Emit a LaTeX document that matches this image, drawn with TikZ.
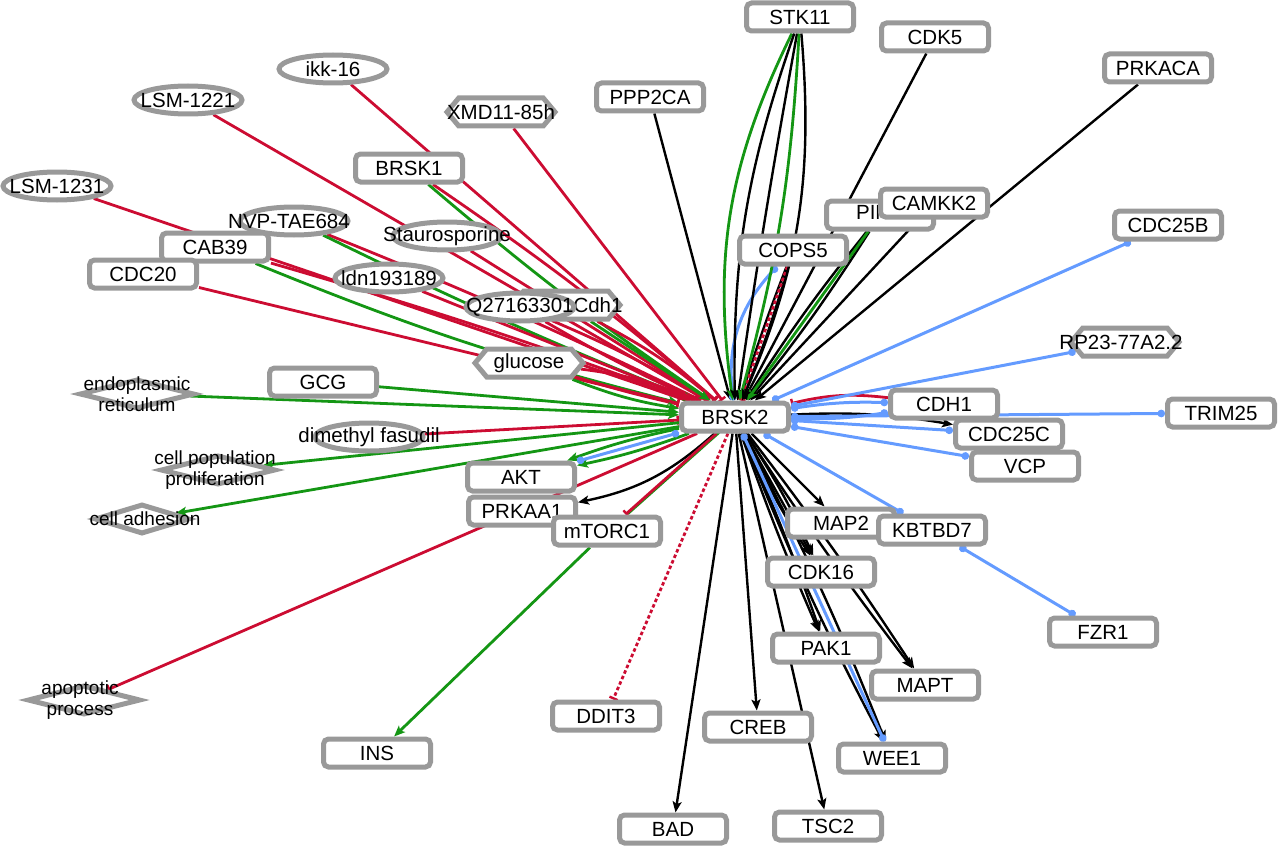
\documentclass[tikz,border=0pt]{standalone}
\usepackage{fontspec}
\setmainfont{Liberation Sans}
\usetikzlibrary{shapes.geometric,shapes.symbols,arrows.meta,backgrounds}
\definecolor{rcol}{RGB}{204,12,50}
\definecolor{gcol}{RGB}{20,150,20}
\definecolor{bcol}{RGB}{100,155,255}
\definecolor{ncol}{RGB}{153,153,153}
\begin{document}
\begin{tikzpicture}[x=1pt,y=-1pt,
  nfont/.style={font=\fontsize{20.5}{22}\selectfont},
  nbox/.style={draw=ncol, line width=5pt, fill=white, rounded corners=5pt, minimum width=107pt, minimum height=28pt, inner sep=0pt, nfont},
  nell/.style={ellipse, draw=ncol, line width=5pt, fill=white, minimum width=108pt, minimum height=28pt, inner sep=0pt},
  nhex/.style={signal, signal to=west and east, signal pointer angle=100, draw=ncol, line width=5pt, fill=white, minimum width=108pt, minimum height=28pt, inner sep=0pt},
  ndia/.style={diamond, draw=ncol, line width=5pt, fill=white, minimum width=112pt, minimum height=30pt, inner sep=0pt},
  lbl/.style={nfont, inner sep=0pt, text=black},
  dlbl/.style={font=\fontsize{19}{21}\selectfont, inner sep=0pt, align=center, text=black},
  ebk/.style={black, line width=2.4pt, -{Stealth[length=11pt,width=9pt,inset=2.5pt]}},
  egr/.style={gcol, line width=2.8pt, -{Stealth[length=11pt,width=9pt,inset=2.5pt]}},
  egl/.style={gcol, line width=2.8pt},
  erd/.style={rcol, line width=2.8pt, -{Bar[width=9pt,line width=2.4pt]}},
  erdd/.style={rcol, line width=2.8pt, dash pattern=on 3.5pt off 2.5pt, -{Bar[width=9pt,line width=2.4pt]}},
  ebl/.style={bcol, line width=3pt, {Circle[length=7.5pt]}-{Circle[length=7.5pt]}}
]
\useasboundingbox (0,0) rectangle (1279,848);

% ---------- nodes ----------
\node[nbox] (stk11) at (800,17) {STK11};
\node[nbox] (cdk5) at (935,37) {CDK5};
\node[nbox] (ppp2ca) at (650,97) {PPP2CA};
\node[nbox] (prkaca) at (1158,68) {PRKACA};
\node[nbox] (cdc25b) at (1168,225) {CDC25B};
\node[nbox, label={[lbl,yshift=3pt]center:PIM1}] (pim) at (880,215) {};
\node[nbox] (camkk2) at (934,203) {CAMKK2};
\node[nbox] (cops5) at (793,250) {COPS5};
\node[nhex, label={[lbl,xshift=-4pt]center:RP23-77A2.2}] (rp23) at (1125,342) {};
\node[nbox] (cdh1) at (944,404) {CDH1};
\node[nbox] (trim25) at (1221,413) {TRIM25};
\node[nbox] (cdc25c) at (1009,434) {CDC25C};
\node[nbox] (vcp) at (1025,466) {VCP};
\node[nbox] (map2) at (841,523) {MAP2};
\node[nbox] (kbtbd7) at (932,530) {KBTBD7};
\node[nbox] (fzr1) at (1103,632) {FZR1};
\node[nbox] (cdk16) at (821,572) {CDK16};
\node[nbox] (pak1) at (826,648) {PAK1};
\node[nbox] (mapt) at (925,685) {MAPT};
\node[nbox] (creb) at (758,727) {CREB};
\node[nbox] (wee1) at (892,758) {WEE1};
\node[nbox] (tsc2) at (828,826) {TSC2};
\node[nbox] (bad) at (673,829) {BAD};
\node[nbox] (ddit3) at (606,716) {DDIT3};
\node[nbox] (ins) at (377,753) {INS};
\node[nbox] (akt) at (521,477) {AKT};
\node[nbox] (prkaa1) at (522,511) {PRKAA1};
\node[nbox] (mtorc1) at (607,531) {mTORC1};
\node[nbox] (gcg) at (323,382) {GCG};
\node[nbox] (cab39) at (215,247) {CAB39};
\node[nbox] (cdc20) at (143,274) {CDC20};
\node[nbox] (brsk1) at (409,168) {BRSK1};
\node[nell, label={[lbl]center:ikk-16}] (ikk) at (333,69) {};
\node[nell, label={[lbl]center:LSM-1221}] (lsm1221) at (188,100) {};
\node[nell, label={[lbl]center:LSM-1231}] (lsm1231) at (57,186) {};
\node[nell, label={[lbl,xshift=-5pt]center:NVP-TAE684}] (nvp) at (294,221) {};
\node[nell, label={[lbl]center:Staurosporine}] (stauro) at (447,236) {};
\node[nell, label={[lbl]center:ldn193189}] (ldn) at (389,278) {};
\node[nhex, label={[lbl,xshift=32pt]center:Cdh1}] (cdh1s) at (566,305) {};
\node[nell, label={[lbl]center:Q27163301}] (q2716) at (520,307) {};
\node[nhex, label={[lbl]center:XMD11-85h}] (xmd) at (501,112) {};
\node[nhex, label={[lbl]center:glucose}] (glucose) at (529,363) {};
\node[nell, label={[lbl]center:dimethyl fasudil}] (dmf) at (369,437) {};
\node[ndia, minimum width=115pt, label={[dlbl]center:endoplasmic\\reticulum}] (er) at (137,394) {};
\node[ndia, minimum width=115pt, label={[dlbl,xshift=-3pt]center:cell population\\proliferation}] (cellpop) at (218,470) {};
\node[ndia, minimum width=95pt, label={[dlbl,xshift=3pt]center:cell adhesion}] (celladh) at (142,519) {};
\node[ndia, minimum width=113pt, label={[dlbl,xshift=-4pt]center:apoptotic\\process}] (apop) at (84,700) {};
\node[nbox] (brsk2) at (735,417) {BRSK2};

% ---------- edges ----------
\begin{pgfonlayer}{background}
% upper-left inhibitors and activators
\draw[erd] (lsm1231) -- (brsk2);
\draw[erd] (lsm1221) -- (brsk2);
\draw[erd] (ikk) -- (brsk2);
\draw[erd] (xmd) -- (brsk2);
\draw[erd] (brsk1) to[bend left=3] (brsk2);
\draw[egr] (brsk1) to[bend right=3] (brsk2);
\draw[erd] (nvp) to[bend left=2] (brsk2);
\draw[egr] (nvp) to[bend right=2] (brsk2);
\draw[erd] (stauro) -- (brsk2);
\draw[erd] (ldn) -- (brsk2);
\draw[erd] (cab39) to[bend left=2] (brsk2);
\draw[egr] (cab39) to[bend right=4] (brsk2);
\draw[erd] (cdc20) -- (brsk2);
\draw[erd] (q2716) to[bend left=4] (brsk2);
\draw[erd] (q2716) to[bend right=3] (brsk2);
\draw[erd] (cdh1s) to[bend left=6] (brsk2);
\draw[egr] (cdh1s) -- (brsk2);
\draw[erd] (glucose) to[bend left=8] (brsk2);
\draw[erd] (glucose) to[bend right=2] (brsk2);
\draw[egr] (glucose) to[bend right=6] (brsk2);
\draw[egr] (gcg) -- (brsk2);
\draw[egr] (er) -- (brsk2);
\draw[erd] (dmf) -- (brsk2);
% left / lower-left
\draw[egr] (brsk2) -- (cellpop);
\draw[egr] (brsk2) -- (celladh);
\draw[egr] (brsk2) to[bend left=4] (akt);
\draw[egr] (brsk2) to[bend right=4] (akt);
\draw[erd] (brsk2) -- (apop);
\draw[ebl] (akt) -- (brsk2);
\draw[ebk] (brsk2) to[bend left=15] (prkaa1);
\draw[egl, transform canvas={xshift=2.5pt,yshift=1pt}] (brsk2) -- (mtorc1);
\draw[erd] (brsk2) -- (mtorc1);
\draw[egr] (mtorc1) -- (ins);
\draw[erdd] (brsk2) -- (ddit3);
% downward
\draw[ebk] (brsk2) -- (bad);
\draw[ebk] (brsk2) -- (creb);
\draw[ebk] (brsk2) -- (tsc2);
\draw[ebk] (brsk2) -- (map2);
\draw[ebk] (brsk2) to[bend left=4] (cdk16);
\draw[ebk] (brsk2) -- (cdk16);
\draw[ebk] (brsk2) to[bend right=4] (cdk16);
\draw[ebk] (brsk2) to[bend left=2] (pak1);
\draw[ebk] (brsk2) to[bend right=2] (pak1);
\draw[ebk] (brsk2) to[bend left=2] (mapt);
\draw[ebk] (brsk2) to[bend right=2] (mapt);
\draw[ebk] (brsk2) to[bend left=3] (wee1);
\draw[ebk] (brsk2) to[bend right=3] (wee1);
\draw[ebl] (brsk2) -- (wee1);
% right side
\draw[ebl] (brsk2) -- (kbtbd7);
\draw[ebl] (kbtbd7) -- (fzr1);
\draw[ebl] (brsk2) -- (vcp);
\draw[ebl] (brsk2) -- (cdc25c);
\draw[ebk] (brsk2) to[bend left=6] (cdc25c);
\draw[ebl] (brsk2) to[bend left=5] (cdh1);
\draw[ebl] (brsk2) to[bend right=5] (cdh1);
\draw[erd] (cdh1) to[bend right=10] (brsk2);
\draw[ebl] (brsk2) -- (trim25);
\draw[ebl] (brsk2) -- (rp23);
\draw[ebl] (brsk2) -- (cdc25b);
% top
\draw[ebk] (ppp2ca) -- (brsk2);
\draw[ebk] (cdk5) -- (brsk2);
\draw[ebk] (prkaca) -- (brsk2);
\draw[ebk] (camkk2) -- (brsk2);
\draw[ebk] (pim) to[bend left=3] (brsk2);
\draw[ebk] (pim) to[bend right=3] (brsk2);
\draw[egr] (pim) -- (brsk2);
\draw[ebk] (cops5) to[bend left=3] (brsk2);
\draw[ebk] (cops5) to[bend right=2] (brsk2);
\draw[ebl] (cops5) to[bend right=25] (brsk2);
\draw[erdd] (cops5) -- (brsk2);
\draw[egr] (stk11) to[bend right=17] (brsk2);
\draw[ebk] (stk11) to[bend right=10] (brsk2);
\draw[ebk] (stk11) to[bend right=1] (brsk2);
\draw[egr] (stk11) to[bend left=6] (brsk2);
\draw[ebk] (stk11) to[bend left=14] (brsk2);
\end{pgfonlayer}
\end{tikzpicture}
\end{document}
